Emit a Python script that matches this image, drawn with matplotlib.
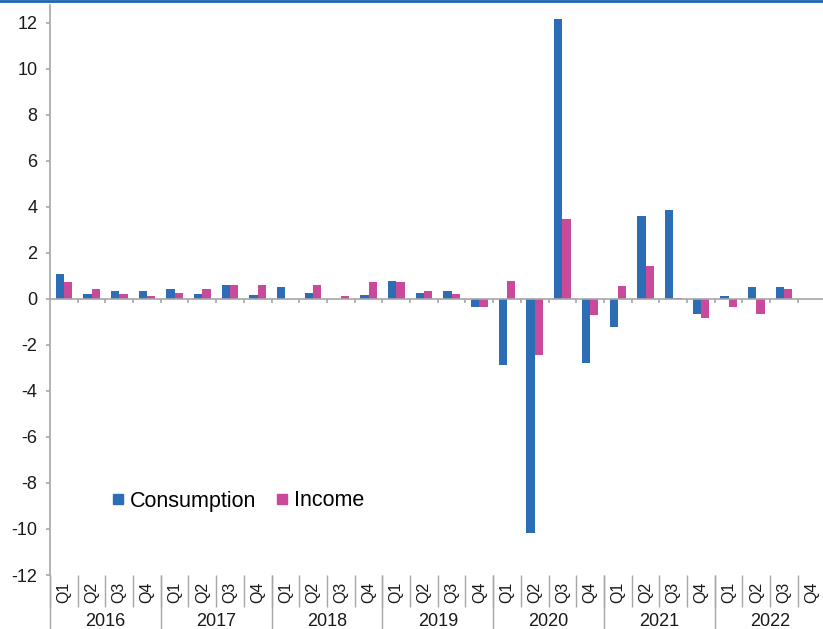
import numpy as np
import matplotlib
matplotlib.use("Agg")
import matplotlib.pyplot as plt
from matplotlib.lines import Line2D

plt.rcParams['font.family'] = ['Liberation Sans', 'DejaVu Sans']

# quarterly % change, 2016Q1 .. 2022Q4
years = ['2016', '2017', '2018', '2019', '2020', '2021', '2022']
quarters = ['Q1', 'Q2', 'Q3', 'Q4']
consumption = [1.07, 0.22, 0.34, 0.34,
               0.43, 0.22, 0.60, 0.17,
               0.54, 0.28, 0.0, 0.17,
               0.80, 0.28, 0.34, -0.34,
               -2.85, -10.18, 12.15, -2.8,
               -1.2, 3.62, 3.88, -0.65,
               0.11, 0.54, 0.54, 0.0]
income = [0.75, 0.43, 0.22, 0.11,
          0.28, 0.43, 0.60, 0.60,
          0.0, 0.60, 0.11, 0.75,
          0.75, 0.34, 0.22, -0.34,
          0.80, -2.42, 3.46, -0.68,
          0.58, 1.43, 0.05, -0.82,
          -0.36, -0.65, 0.43, 0.0]
yticks = [-12, -10, -8, -6, -4, -2, 0, 2, 4, 6, 8, 10, 12]

blue = '#2c6db6'
pink = '#c94a9b'
grey = '#a6a6a6'

n = len(consumption)
x = np.arange(n) + 0.5

fig = plt.figure(figsize=(8.23, 6.29), dpi=100)
ax = fig.add_axes([50/823, 54/629, 775.6/823, 570/629])

ax.bar(x - 0.15, consumption, width=0.3, color=blue, label='Consumption')
ax.bar(x + 0.15, income, width=0.3, color=pink, label='Income')

ax.set_xlim(0, n)
ax.set_ylim(-12, 12.78)

# zero line with small ticks at quarter boundaries
ax.axhline(0, color=grey, lw=1.2, zorder=3)
ax.vlines(np.arange(1, n), 0, -0.18, color=grey, lw=1.2, zorder=3)

for s in ['top', 'right', 'bottom']:
    ax.spines[s].set_visible(False)
ax.spines['left'].set_color(grey)
ax.spines['left'].set_linewidth(1.2)

ax.set_yticks(yticks)
ax.set_yticklabels([str(v) for v in yticks])
ax.tick_params(axis='y', length=3, color=grey, width=1.2, pad=6,
               labelsize=13, labelcolor='#1a1a1a')

# quarter labels + separators
ax.set_xticks(x)
ax.set_xticklabels(quarters * len(years), rotation=90)
ax.tick_params(axis='x', which='major', length=0, pad=5, labelsize=11.5,
               labelcolor='#1a1a1a')
ax.set_xticks(np.arange(0, n + 1), minor=True)
ax.tick_params(axis='x', which='minor', length=23, width=1, color=grey)

# year labels + separators
sec = ax.secondary_xaxis('bottom')
sec.spines['bottom'].set_visible(False)
sec.set_xticks(np.arange(2, n, 4))
sec.set_xticklabels(years)
sec.tick_params(axis='x', which='major', length=0, pad=27, labelsize=13,
                labelcolor='#1a1a1a')
sec.set_xticks(np.arange(0, n + 1, 4), minor=True)
sec.tick_params(axis='x', which='minor', length=40, width=1, color=grey)

handles = [Line2D([], [], ls='none', marker='s', ms=7, color=blue),
           Line2D([], [], ls='none', marker='s', ms=7, color=pink)]
fig.legend(handles, ['Consumption', 'Income'], loc='center left',
           bbox_to_anchor=(112/823, 1 - 501/629), ncol=2, frameon=False,
           fontsize=15.5, handlelength=0.55, handletextpad=0.3,
           columnspacing=0.9, borderpad=0, borderaxespad=0)

# thin blue rule at the top of the page
fig.add_artist(Line2D([0, 1], [0.998, 0.998], transform=fig.transFigure,
                      color='#1f66b0', lw=2))

fig.savefig('out.png', dpi=100)
